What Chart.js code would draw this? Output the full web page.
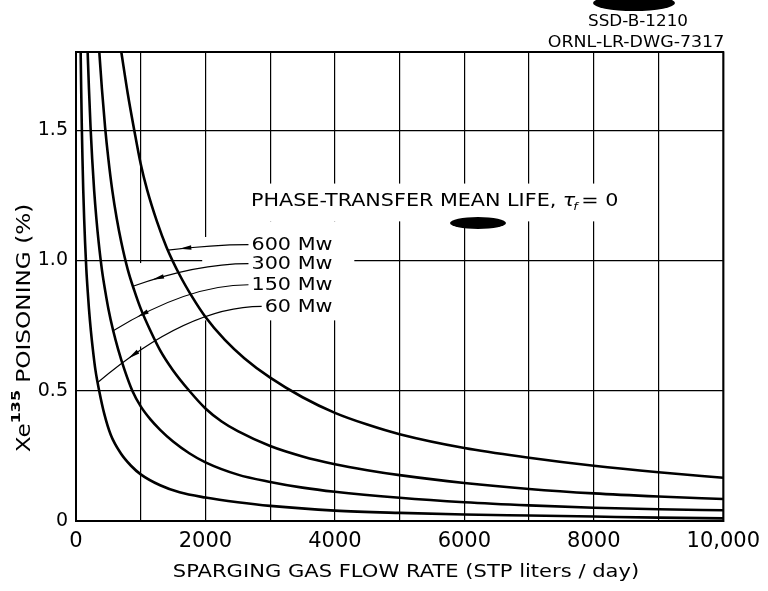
<!DOCTYPE html>
<html>
<head>
<meta charset="utf-8">
<script src="https://cdn.jsdelivr.net/npm/chart.js@4.4.1/dist/chart.umd.min.js"></script>
<style>
  html, body { margin: 0; padding: 0; background: #fff; }
</style>
</head>
<body>
<canvas id="chart" width="768" height="591"></canvas>
<script>
// Sparging gas flow rate (STP liters/day) vs Xe-135 poisoning (%), one curve per power level
var powers = ['600', '300', '150', '60'];

var flow600 = [700, 800, 900, 1000, 1100, 1250, 1400, 1600, 1800, 2000, 2300, 2600, 3000, 3500, 4000, 4500, 5000, 6000, 7000, 8000, 9000, 10000];
var pois600 = [1.8, 1.64, 1.5, 1.37, 1.27, 1.15, 1.05, 0.945, 0.858, 0.783, 0.695, 0.625, 0.55, 0.475, 0.415, 0.37, 0.333, 0.28, 0.243, 0.212, 0.187, 0.166];

var flow300 = [360, 400, 450, 500, 560, 630, 700, 800, 900, 1000, 1150, 1300, 1500, 1750, 2000, 2250, 2500, 3000, 3500, 4000, 4500, 5000, 6000, 7000, 8000, 9000, 10000];
var pois300 = [1.8, 1.66, 1.51, 1.39, 1.27, 1.16, 1.07, 0.965, 0.885, 0.815, 0.73, 0.655, 0.578, 0.5, 0.432, 0.382, 0.345, 0.288, 0.248, 0.218, 0.195, 0.176, 0.146, 0.123, 0.106, 0.094, 0.0845];

var flow150 = [180, 200, 225, 250, 280, 315, 350, 400, 450, 500, 575, 650, 750, 870, 1000, 1150, 1300, 1500, 1750, 2000, 2500, 3000, 3500, 4000, 5000, 6000, 7000, 8000, 9000, 10000];
var pois150 = [1.8, 1.66, 1.51, 1.39, 1.27, 1.16, 1.07, 0.965, 0.885, 0.815, 0.73, 0.66, 0.58, 0.5, 0.44, 0.39, 0.35, 0.305, 0.26, 0.225, 0.178, 0.15, 0.128, 0.112, 0.089, 0.072, 0.06, 0.051, 0.045, 0.041];

var flow60 = [72, 80, 90, 100, 112, 126, 140, 160, 180, 200, 230, 260, 300, 358, 435, 538, 691, 850, 1000, 1300, 1600, 2000, 2500, 3000, 4000, 5000, 6000, 7000, 8000, 9000, 10000];
var pois60 = [1.8, 1.66, 1.51, 1.39, 1.27, 1.16, 1.07, 0.965, 0.885, 0.815, 0.73, 0.66, 0.58, 0.5, 0.413, 0.33, 0.26, 0.212, 0.179, 0.137, 0.11, 0.09, 0.072, 0.058, 0.04, 0.031, 0.025, 0.021, 0.017, 0.013, 0.01];

var flows = [flow600, flow300, flow150, flow60];
var pois = [pois600, pois300, pois150, pois60];

// x ticks every 1000, labelled every 2000; y ticks every 0.5
var xTickLabels = { 0: '0', 2000: '2000', 4000: '4000', 6000: '6000', 8000: '8000', 10000: '10,000' };
var yTickValues = [0, 0.5, 1.0, 1.5];

// label block: right edge on the flow axis, heights on the poisoning axis
var labelRightX = 3963;
var labelY = [1.057, 0.984, 0.903, 0.82];
// where each leader arrow lands on its curve (flow value)
var leaderEndX = [1420, 880, 575, 335];

var FONT = '"DejaVu Sans", sans-serif';

function onCurve(xs, ys, v) {
  for (var i = 1; i < xs.length; i++) {
    if (v <= xs[i]) {
      var f = (v - xs[i - 1]) / (xs[i] - xs[i - 1]);
      return ys[i - 1] + f * (ys[i] - ys[i - 1]);
    }
  }
  return ys[ys.length - 1];
}

// lettering-guide text is wide: draw it stretched horizontally, returns drawn width
function wideText(ctx, text, x, y, sx, align) {
  var w = ctx.measureText(text).width * sx;
  var left = align === 'right' ? x - w : align === 'center' ? x - w / 2 : x;
  ctx.save();
  ctx.textAlign = 'left';
  ctx.translate(left, y);
  ctx.scale(sx, 1);
  ctx.fillText(text, 0, 0);
  ctx.restore();
  return w;
}

var decor = {
  id: 'decor',
  beforeDatasetsDraw: function (chart) {
    var ctx = chart.ctx, x = chart.scales.x, y = chart.scales.y;
    // blank out the grid behind the lettering
    var gaps = [[1950, 4300, 0.77, 1.09], [2300, 4300, 1.09, 1.15], [2500, 8100, 1.15, 1.295], [960, 1040, 0.67, 0.99]];
    ctx.save();
    ctx.fillStyle = '#fff';
    gaps.forEach(function (g) {
      var l = x.getPixelForValue(g[0]), r = x.getPixelForValue(g[1]);
      var t = y.getPixelForValue(g[3]), b = y.getPixelForValue(g[2]);
      ctx.fillRect(l, t, r - l, b - t);
    });
    ctx.restore();
  },
  afterDatasetsDraw: function (chart) {
    var ctx = chart.ctx, x = chart.scales.x, y = chart.scales.y, a = chart.chartArea;
    ctx.save();
    ctx.fillStyle = '#000';
    ctx.strokeStyle = '#000';
    ctx.textBaseline = 'middle';

    // frame
    ctx.lineWidth = 2;
    ctx.strokeRect(a.left, a.top, a.right - a.left, a.bottom - a.top);

    // power labels with curved leaders
    ctx.font = '17px ' + FONT;
    ctx.lineWidth = 1.1;
    powers.forEach(function (p, i) {
      var text = p + ' Mw';
      var tx = x.getPixelForValue(labelRightX), ty = y.getPixelForValue(labelY[i]);
      var tw = wideText(ctx, text, tx, ty, 1.22, 'right');
      var sx = tx - tw - 3, sy = ty - 1;
      var ex = x.getPixelForValue(leaderEndX[i]);
      var ey = y.getPixelForValue(onCurve(flows[i], pois[i], leaderEndX[i]));
      var cx = ex + 0.55 * (sx - ex), cy = sy;
      ctx.beginPath();
      ctx.moveTo(sx, sy);
      ctx.quadraticCurveTo(cx, cy, ex, ey);
      ctx.stroke();
      // arrowhead along the leader
      var t = 0.8, u = 1 - t;
      var px = u * u * sx + 2 * u * t * cx + t * t * ex;
      var py = u * u * sy + 2 * u * t * cy + t * t * ey;
      var dx = 2 * u * (cx - sx) + 2 * t * (ex - cx);
      var dy = 2 * u * (cy - sy) + 2 * t * (ey - cy);
      var len = Math.hypot(dx, dy); dx /= len; dy /= len;
      ctx.beginPath();
      ctx.moveTo(px + dx * 6, py + dy * 6);
      ctx.lineTo(px - dx * 6 - dy * 2.2, py - dy * 6 + dx * 2.2);
      ctx.lineTo(px - dx * 6 + dy * 2.2, py - dy * 6 - dx * 2.2);
      ctx.closePath();
      ctx.fill();
    });

    // caption inside the plot
    var capX = 251, capY = 201, k = 1.15;
    ctx.font = '18px ' + FONT;
    capX += wideText(ctx, 'PHASE-TRANSFER MEAN LIFE, ', capX, capY, k);
    ctx.font = 'italic 18px ' + FONT;
    capX += wideText(ctx, '\u03C4', capX, capY, k);
    ctx.font = 'italic 11px ' + FONT;
    wideText(ctx, 'f', capX - 2, capY + 6, k);
    ctx.font = '18px ' + FONT;
    wideText(ctx, '= 0', capX + 6, capY, k);

    // ink marks
    ctx.beginPath();
    ctx.ellipse(478, 223, 28, 6, 0, 0, Math.PI * 2);
    ctx.fill();
    ctx.beginPath();
    ctx.ellipse(634, 3, 41, 8, 0, 0, Math.PI * 2);
    ctx.fill();

    // drawing numbers
    ctx.font = '15px ' + FONT;
    wideText(ctx, 'SSD-B-1210', 638, 22, 1.12, 'center');
    wideText(ctx, 'ORNL-LR-DWG-7317', 636, 43, 1.16, 'center');

    // axis titles
    ctx.font = '18px ' + FONT;
    wideText(ctx, 'SPARGING GAS FLOW RATE (STP liters / day)', 406, 572, 1.17, 'center');

    ctx.translate(25, 328);
    ctx.rotate(-Math.PI / 2);
    var parts = [['Xe', '19px ', 0], ['135', 'bold 13px ', -8], [' POISONING (%)', '19px ', 0]];
    var total = 0, s = 1.22;
    parts.forEach(function (p) { ctx.font = p[1] + FONT; total += ctx.measureText(p[0]).width * s; });
    var pos = -total / 2;
    parts.forEach(function (p) {
      ctx.font = p[1] + FONT;
      pos += wideText(ctx, p[0], pos, p[2], s);
    });
    ctx.restore();
  }
};

var datasets = powers.map(function (p, i) {
  return {
    label: p + ' Mw',
    data: flows[i].map(function (f, j) { return { x: f, y: pois[i][j] }; }),
    borderColor: '#000',
    borderWidth: 2.6,
    pointRadius: 0,
    fill: false,
    cubicInterpolationMode: 'monotone'
  };
});

var ctx = document.getElementById('chart').getContext('2d');
var myChart = new Chart(ctx, {
  type: 'line',
  data: { datasets: datasets },
  plugins: [decor],
  options: {
    responsive: false,
    animation: false,
    devicePixelRatio: 1,
    layout: { padding: { top: 52, right: 42, bottom: 0, left: 0 } },
    plugins: { legend: { display: false }, tooltip: { enabled: false } },
    scales: {
      x: {
        type: 'linear', min: 0, max: 10000,
        afterFit: function (s) { s.height = 70; },
        grid: { color: '#000', lineWidth: 1.2, drawTicks: false },
        border: { color: '#000', width: 2 },
        ticks: {
          stepSize: 1000, autoSkip: false, maxRotation: 0, padding: 8,
          color: '#000', font: { family: FONT, size: 21 },
          callback: function (v) { return xTickLabels[v] !== undefined ? xTickLabels[v] : ''; }
        }
      },
      y: {
        type: 'linear', min: 0, max: 1.8,
        afterFit: function (s) { s.width = 76; },
        afterBuildTicks: function (s) { s.ticks = yTickValues.map(function (v) { return { value: v }; }); },
        grid: { color: '#000', lineWidth: 1.2, drawTicks: false },
        border: { color: '#000', width: 2 },
        ticks: {
          padding: 8, color: '#000', font: { family: FONT, size: 19 },
          callback: function (v) { return v === 0 ? '0' : v.toFixed(1); }
        }
      }
    }
  }
});
</script>
</body>
</html>
